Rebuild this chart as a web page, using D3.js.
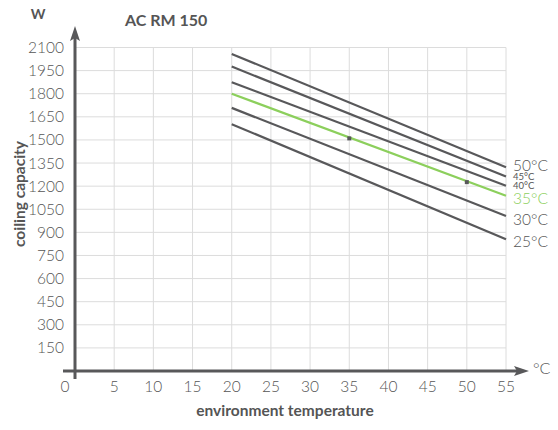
<!DOCTYPE html>
<html><head><meta charset="utf-8">
<script src="https://cdn.jsdelivr.net/npm/d3@7"></script>
<style>body{margin:0;background:#fff}svg{display:block}</style>
</head><body><svg id="c" width="558" height="430"></svg>
<script>
const xTicks = [0,5,10,15,20,25,30,35,40,45,50,55];
const yTicks = [150,300,450,600,750,900,1050,1200,1350,1500,1650,1800,1950,2100];
const seriesNames = ["50°C","45°C","40°C","35°C","30°C","25°C"];
const seriesX = [20,55];
const seriesStart = [2058,1976,1875,1800,1708,1602];
const seriesEnd = [1323,1262,1203,1138,1006,855];
const markerX = [35,50];
const markerY = [1510,1226];
const labelY = [1298,1237,1180,1082,948,805];
const labelSize = [15.5,9.5,9.5,15.5,15.5,15.5];

const gray = "#58585a", green = "#8ccf5c", text = "#555";
const tickFont = "Lato";
const svg = d3.select("#c");
const x = d3.scaleLinear().domain([0,55]).range([75,506]);
const y = d3.scaleLinear().domain([0,2100]).range([371,47.5]);

// grid
svg.append("g").selectAll("line").data(xTicks.filter(d=>d>0)).join("line")
  .attr("x1",d=>x(d)).attr("x2",d=>x(d)).attr("y1",y(0)).attr("y2",y(2100))
  .attr("stroke","#dcdcdc").attr("stroke-width",1);
svg.append("g").selectAll("line").data(yTicks).join("line")
  .attr("x1",x(0)).attr("x2",x(55)).attr("y1",d=>y(d)).attr("y2",d=>y(d))
  .attr("stroke","#dcdcdc").attr("stroke-width",1);

// tick labels
svg.append("g").selectAll("text").data(xTicks).join("text")
  .attr("x",d=>d===0?x(d)-10:x(d)).attr("y",392).attr("text-anchor","middle")
  .attr("font-family",tickFont).attr("font-weight",300).attr("font-size",15.5).attr("fill",text)
  .text(d=>d);
svg.append("g").selectAll("text").data(yTicks).join("text")
  .attr("x",64).attr("y",d=>y(d)+5.5).attr("text-anchor","end")
  .attr("font-family",tickFont).attr("font-weight",300).attr("font-size",15.5).attr("fill",text)
  .text(d=>d);

// axes
svg.append("line").attr("x1",63).attr("x2",518).attr("y1",y(0)).attr("y2",y(0))
  .attr("stroke",gray).attr("stroke-width",3);
svg.append("path").attr("d",`M529,${y(0)} L514,${y(0)-5} L517,${y(0)} L514,${y(0)+5} Z`).attr("fill",gray);
svg.append("line").attr("x1",x(0)).attr("x2",x(0)).attr("y1",379).attr("y2",38)
  .attr("stroke",gray).attr("stroke-width",3);
svg.append("path").attr("d",`M${x(0)},26 L${x(0)-5},41 L${x(0)},38 L${x(0)+5},41 Z`).attr("fill",gray);

// series lines
seriesNames.forEach((n,i)=>{
  const pts = [[seriesX[0],seriesStart[i]],[seriesX[1],seriesEnd[i]]];
  svg.append("path").attr("d",d3.line().x(d=>x(d[0])).y(d=>y(d[1]))(pts))
    .attr("fill","none").attr("stroke",n==="35°C"?green:gray).attr("stroke-width",2.2);
  svg.append("text").attr("x",513).attr("y",y(labelY[i]))
    .attr("font-family",tickFont).attr("font-weight",labelSize[i]<12?400:300).attr("font-size",labelSize[i])
    .attr("fill",n==="35°C"?green:text).text(n);
});
svg.append("g").selectAll("rect").data(markerX).join("rect")
  .attr("x",(d)=>x(d)-2).attr("y",(d,i)=>y(markerY[i])-2).attr("width",4).attr("height",4)
  .attr("fill",gray);

// titles
svg.append("text").attr("x",125).attr("y",26).attr("font-family","Lato").attr("font-weight",700)
  .attr("font-size",16).attr("fill",text).text("AC RM 150");
svg.append("text").attr("x",38).attr("y",19).attr("text-anchor","middle").attr("font-family","Lato").attr("font-weight",700)
  .attr("font-size",14).attr("fill",text).text("W");
svg.append("text").attr("x",533).attr("y",374).attr("font-family",tickFont).attr("font-weight",300)
  .attr("font-size",16).attr("fill",text).text("°C");
svg.append("text").attr("transform","translate(25,194) rotate(-90)").attr("text-anchor","middle")
  .attr("font-family","Lato").attr("font-weight",700).attr("font-size",15.5).attr("fill",text).text("coiling capacity");
svg.append("text").attr("x",285).attr("y",416).attr("text-anchor","middle")
  .attr("font-family","Lato").attr("font-weight",700).attr("font-size",15.5).attr("fill",text).text("environment temperature");
</script></body></html>
